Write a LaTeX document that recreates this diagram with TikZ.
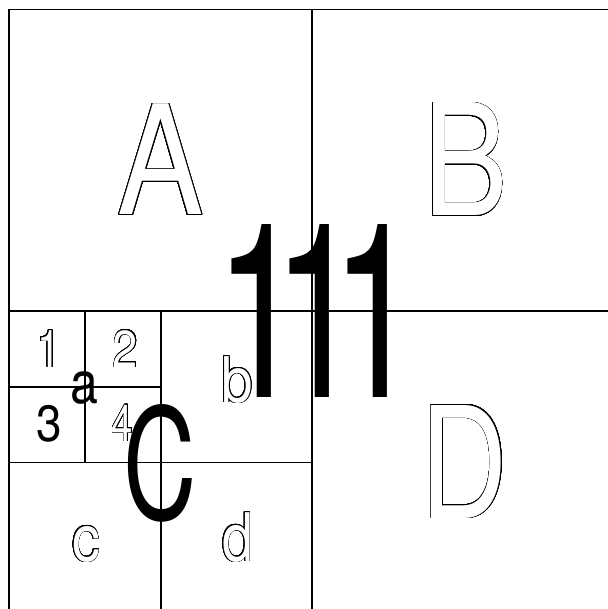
\documentclass[tikz,border=0pt]{standalone}
\usepackage{fontspec}
\setmainfont{TeX Gyre Heros}
\usepackage{graphicx}
\usepackage{contour}
\contourlength{0.8pt}
\contournumber{32}
\newcommand\OutLbl[3]{{\fontsize{#1}{#1}\selectfont\color{white}\contour{black}{\scalebox{#2}[1]{#3}}}}
\newcommand\FillLbl[3]{{\fontsize{#1}{#1}\selectfont\scalebox{#2}[1]{#3}}}
\tikzset{
  gridline/.style={line width=1.4pt, line cap=rect},
  lbl/.style={anchor=base, inner sep=0pt, outer sep=0pt},
}
\begin{document}
\begin{tikzpicture}[x=1pt,y=-1pt]
\useasboundingbox (0,0) rectangle (607,609);
\fill[white] (0,0) rectangle (607,609);
% grid
\draw[gridline] (9,9.5) -- (607,9.5);
\draw[gridline] (9,9.5) -- (9,609);
\draw[gridline] (312,9.5) -- (312,609);
\draw[gridline] (9,311) -- (607,311);
\draw[gridline] (161,311) -- (161,609);
\draw[gridline] (9,462.5) -- (312,462.5);
\draw[gridline] (85,311) -- (85,462.5);
\draw[gridline] (9,387) -- (161,387);
% labels
\node[lbl] (A) at (160.5,215) {\OutLbl{152}{0.85}{A}};
\node[lbl] (B) at (465.5,216) {\OutLbl{155}{0.82}{B}};
\node[lbl] (D) at (464.5,518) {\OutLbl{155}{0.78}{D}};
\node[lbl] (root) at (318.5,397) {\FillLbl{244}{0.66}{1\kern-48pt 1\kern-48pt 1}};
\node[lbl] (C) at (160,519) {\FillLbl{154}{0.66}{C}};
\node[lbl] (b) at (237,402) {\OutLbl{63}{0.9}{b}};
\node[lbl] (c) at (86,561) {\OutLbl{65}{0.86}{c}};
\node[lbl] (d) at (237.5,561) {\OutLbl{67}{0.83}{d}};
\node[lbl] (a) at (84,403) {\FillLbl{59}{0.85}{a}};
\node[lbl] (n1) at (49,367) {\OutLbl{52}{0.8}{1}};
\node[lbl] (n2) at (125.5,367) {\OutLbl{52}{0.87}{2}};
\node[lbl] (n3) at (49,441) {\FillLbl{51}{0.9}{3}};
\node[lbl] (n4) at (122.5,441) {\OutLbl{51}{0.75}{4}};
\end{tikzpicture}
\end{document}
